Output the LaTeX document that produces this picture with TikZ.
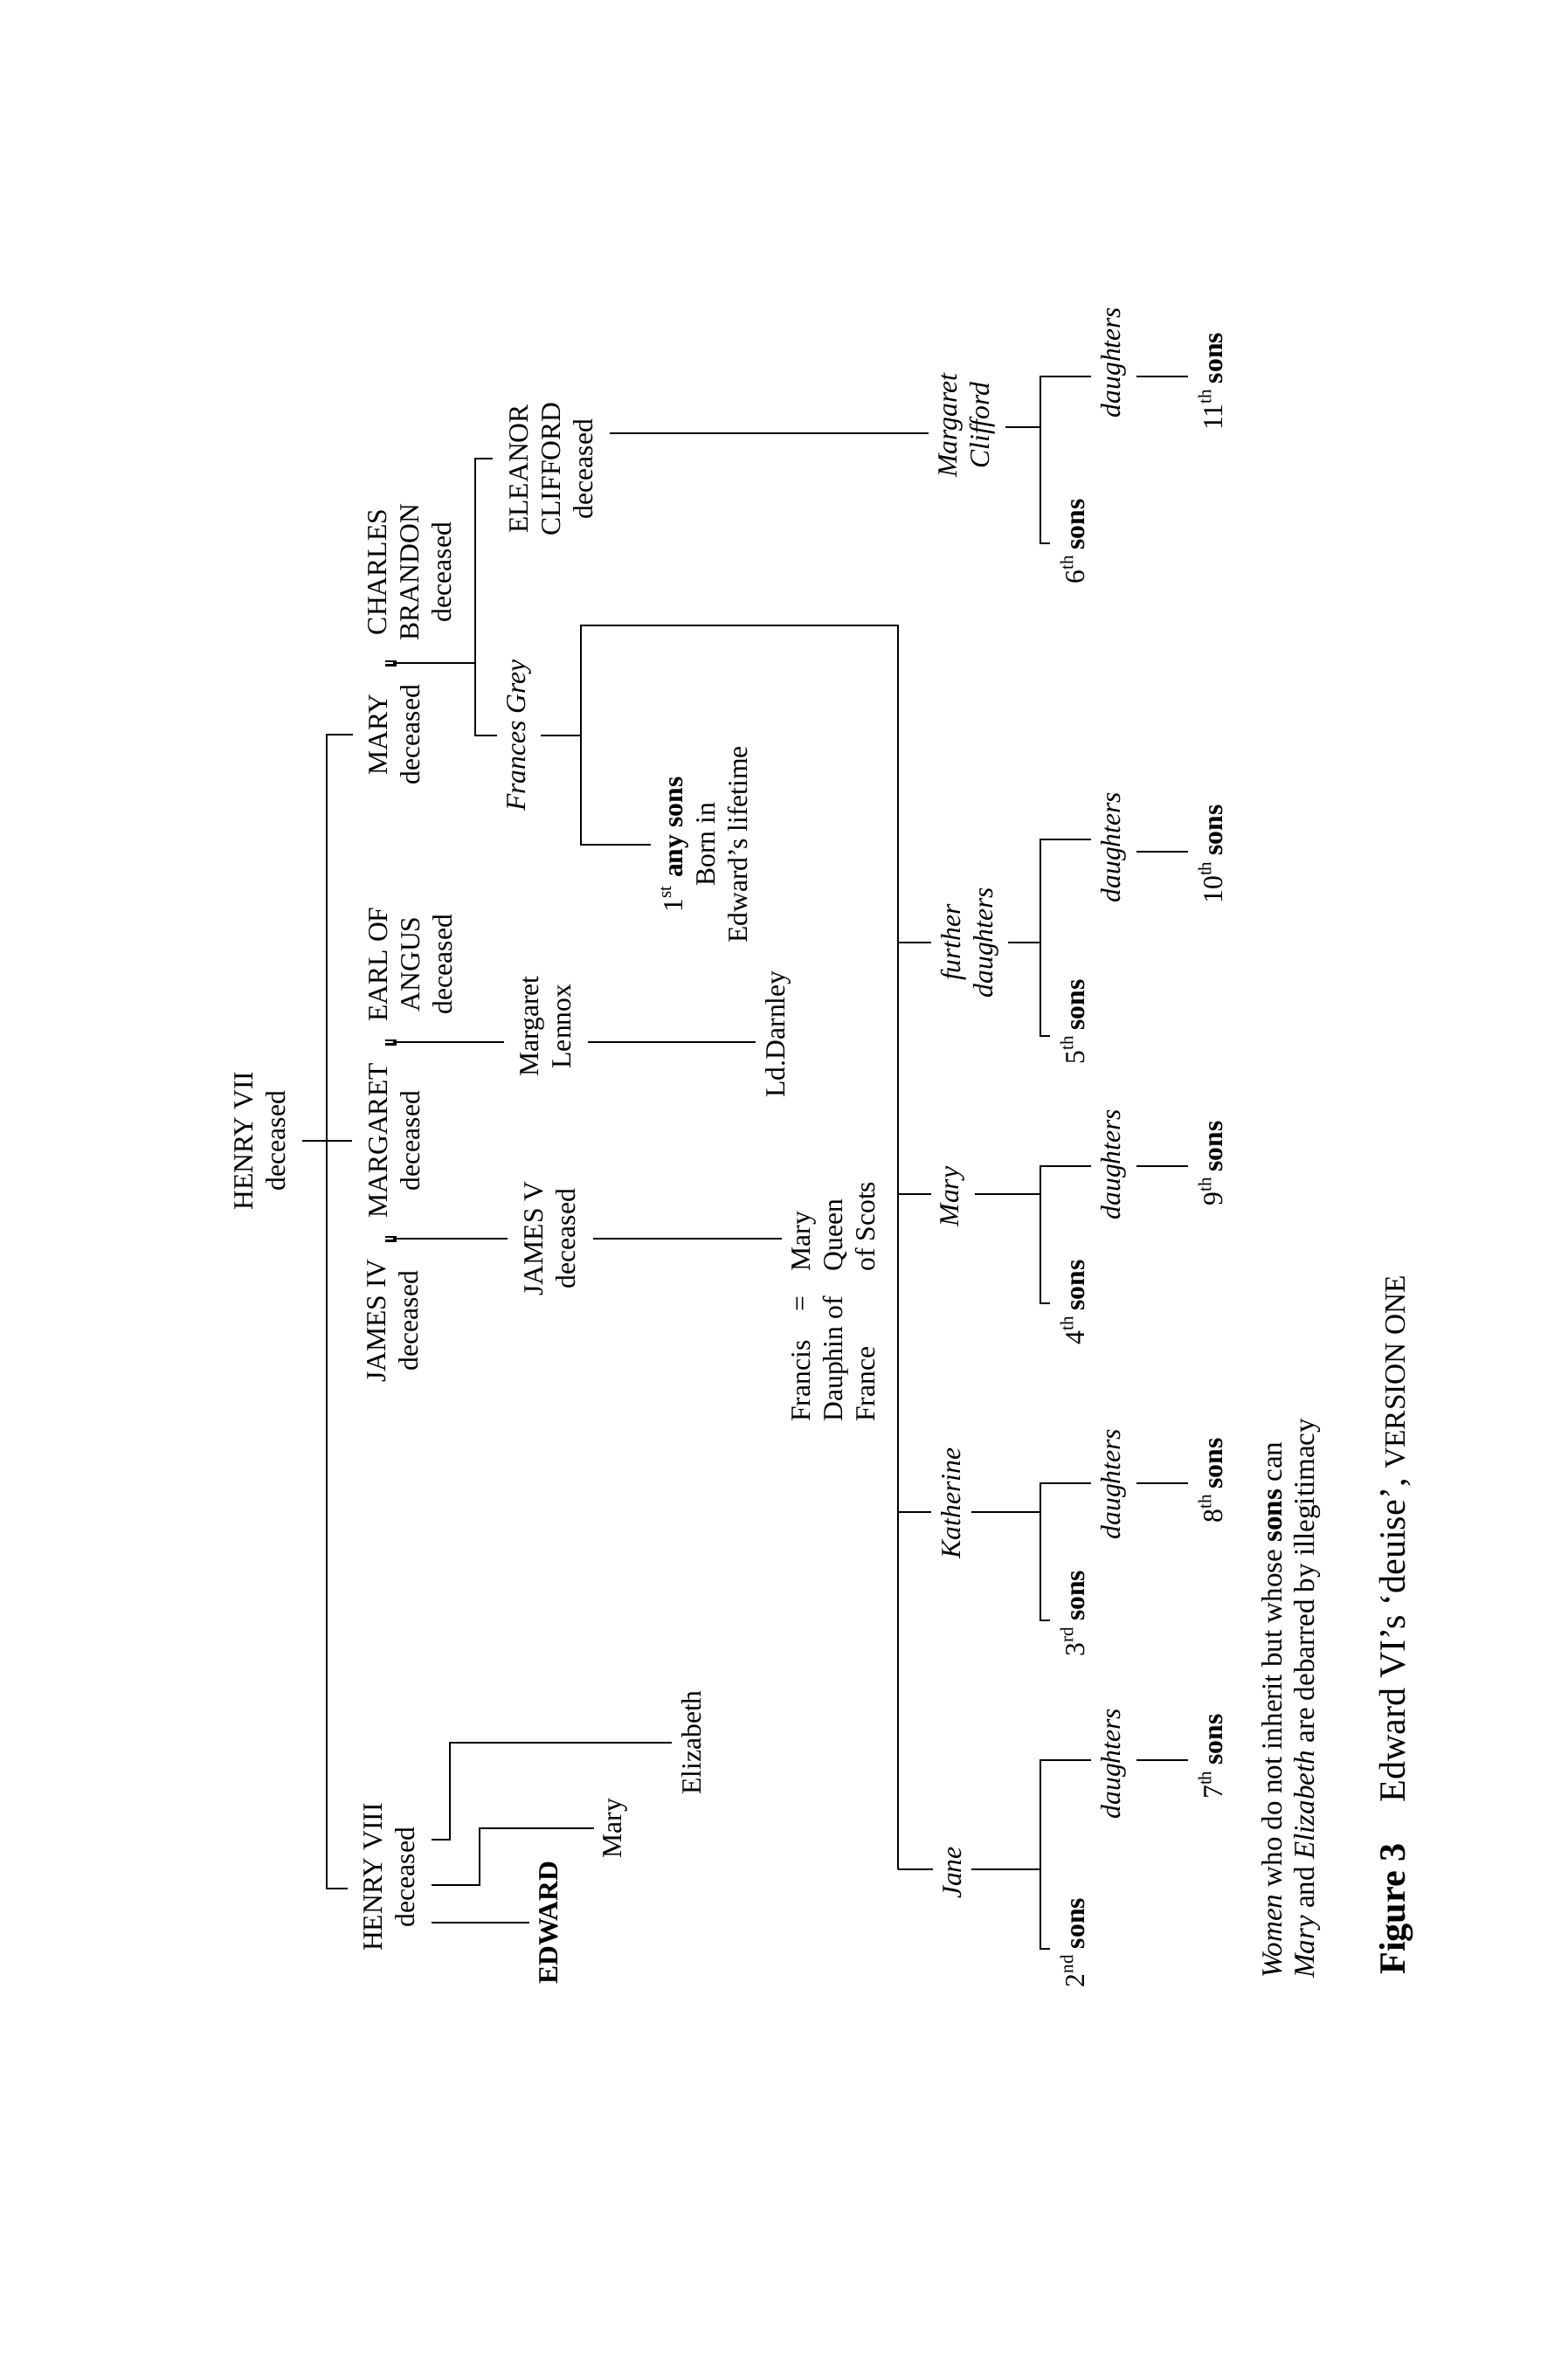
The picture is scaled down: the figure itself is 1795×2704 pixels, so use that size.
\documentclass[tikz,border=0pt]{standalone}
\usepackage{fontspec}
\setmainfont{Liberation Serif}
\newcommand{\lbl}{\fontsize{9}{10.5}\selectfont}

\begin{document}
\begin{tikzpicture}[x=0.01cm, y=-0.01cm, line width=0.8pt,
  every node/.style={font=\lbl, rotate=90, inner sep=0.1cm},
  who/.style={align=center, inner sep=0.18cm},
  heir/.style={align=center, font=\lbl\itshape},
  wed/.pic={\draw[line width=0.6pt] (-2.5,-6.5) -- (-2.5,6.5) (2,-6.5) -- (2,6.5);}]
\useasboundingbox (0,0) rectangle (1795,2704);

% Henry VII and his children
\node[who] (henry7) at (298,1306) {HENRY VII\\deceased};
\node[who] (mary) at (452,841) {MARY\\deceased};
\node[who] (margaret) at (452,1306) {MARGARET\\deceased};
\node[who] (henry8) at (446,2149) {HENRY VIII\\deceased};
\node[who] (brandon) at (469,655) {CHARLES\\BRANDON\\deceased};
\node[who] (angus) at (470,1104) {EARL OF\\ANGUS\\deceased};
\node[who] (james4) at (450,1512) {JAMES IV\\deceased};

\coordinate (s7) at (374,2162);
\draw (henry7.south) -- (margaret.north);
\draw (mary.north) -| (s7) -- (s7 -| henry8.north);

% marriages
\pic at (447.5,759) {wed};
\pic at (447.5,1193) {wed};
\pic at (447.5,1418) {wed};
\coordinate (wB) at (449.5,759);
\coordinate (wA) at (449.5,1193);
\coordinate (wJ) at (449.5,1418);

\node[who] (jamesV) at (630,1418) {JAMES V\\deceased};
\node[who] (lennox) at (625,1175) {Margaret\\Lennox};
\node[who] (eleanor) at (631,537) {ELEANOR\\CLIFFORD\\deceased};
\node[heir] (frances) at (594,842) {Frances Grey};

\coordinate (b1) at (544,525);
\coordinate (b2) at (544,842);
\draw (wJ) -- (jamesV.north);
\draw (wA) -- (wA -| lennox.north);
\draw (wB) -- (wB -| b1);
\draw (b1 -| eleanor.north) -- (b1) -- (b2) -- (frances.north);

% Henry VIII's children
\node[font=\lbl\bfseries] (edward) at (628,2201) {EDWARD};
\node (maryT) at (705,2093) {Mary};
\node (elizabeth) at (792,1995) {Elizabeth};
\coordinate (kE) at (515,2106);
\coordinate (kM) at (549,2158);
\draw (kE -| henry8.south) -- (kE) |- (elizabeth.north);
\draw (kM -| henry8.south) -- (kM) |- (maryT.north);
\draw (edward.north -| henry8.south) -- (edward.north);

% Scots line
\node (darnley) at (891,1184) {Ld.Darnley};
\draw (wA -| lennox.south) -- (wA -| darnley.north);
\node[align=left, anchor=north west] (mqs) at (895,1467) {Mary\\Queen\\of Scots};
\node[anchor=base] (eqfm) at (926,1493) {=};
\node[align=left, anchor=north west] (francis) at (895,1639) {Francis\\Dauphin of\\France};
\draw (jamesV.south) -- (jamesV.south -| mqs.north);

% Frances Grey
\node[align=center] (anysons) at (806,967) {1\textsuperscript{st} \textbf{any sons}\\Born in\\Edward’s lifetime};
\coordinate (f1) at (665,716);
\coordinate (f2) at (665,967);
\coordinate (f3) at (1028,716);
\coordinate (tF) at (1028,1079);
\coordinate (tM) at (1028,1367);
\coordinate (tK) at (1028,1731);
\coordinate (tJ) at (1028,2140);
\draw (frances.south) -- (frances.south -| f1);
\draw (anysons.north) -- (f2) -- (f1) -- (f3) -- (tJ);

\node[heir] (further) at (1110,1079) {further\\daughters};
\node[heir] (maryG) at (1091,1370) {Mary};
\node[heir] (katherine) at (1089,1721) {Katherine};
\node[heir] (jane) at (1090,2144) {Jane};
\draw (tF) -- (tF -| further.north);
\draw (tM) -- (tM -| maryG.north);
\draw (tK) -- (tK -| katherine.north);
\draw (tJ) -- (tJ -| jane.north);

% Eleanor Clifford
\node[heir] (clifford) at (1107,487) {Margaret\\Clifford};
\coordinate (e1) at (0,496);
\draw (e1 -| eleanor.south) -- (e1 -| clifford.north);

% grandchildren
\node[heir] (dJ) at (1275,2019) {daughters};
\node (sJ) at (1228,2224) {2\textsuperscript{nd}\,\textbf{sons}};
\node (uJ) at (1386,2011) {7\textsuperscript{th}\,\textbf{sons}};
\node[heir] (dK) at (1275,1699) {daughters};
\node (sK) at (1228,1847) {3\textsuperscript{rd}\,\textbf{sons}};
\node (uK) at (1386,1695) {8\textsuperscript{th}\,\textbf{sons}};
\node[heir] (dM) at (1275,1333) {daughters};
\node (sM) at (1228,1491) {4\textsuperscript{th}\,\textbf{sons}};
\node (uM) at (1386,1332) {9\textsuperscript{th}\,\textbf{sons}};
\node[heir] (dF) at (1275,970) {daughters};
\node (sF) at (1228,1170) {5\textsuperscript{th}\,\textbf{sons}};
\node (uF) at (1386,978) {10\textsuperscript{th}\,\textbf{sons}};
\node[heir] (dC) at (1275,415) {daughters};
\node (sC) at (1228,620) {6\textsuperscript{th}\,\textbf{sons}};
\node (uC) at (1386,437) {11\textsuperscript{th}\,\textbf{sons}};

\coordinate (jT) at (1191,2015);
\coordinate (jB) at (1191,2231);
\draw (tJ -| jane.south) -- (tJ -| jT);
\draw (jT -| dJ.north) -- (jT) -- (jB) -- (jB -| sJ.north);
\draw (jT -| dJ.south) -- (jT -| uJ.north);

\coordinate (kT) at (1191,1698);
\coordinate (kB) at (1191,1855);
\draw (tK -| katherine.south) -- (tK -| kT);
\draw (kT -| dK.north) -- (kT) -- (kB) -- (kB -| sK.north);
\draw (kT -| dK.south) -- (kT -| uK.north);

\coordinate (mT) at (1191,1335);
\coordinate (mB) at (1191,1492);
\draw (tM -| maryG.south) -- (tM -| mT);
\draw (mT -| dM.north) -- (mT) -- (mB) -- (mB -| sM.north);
\draw (mT -| dM.south) -- (mT -| uM.north);

\coordinate (fT) at (1191,961);
\coordinate (fB) at (1191,1186);
\coordinate (fD) at (0,975);
\draw (tF -| further.south) -- (tF -| fT);
\draw (fT -| dF.north) -- (fT) -- (fB) -- (fB -| sF.north);
\draw (fD -| dF.south) -- (fD -| uF.north);

\coordinate (cT) at (1191,431);
\coordinate (cB) at (1191,622);
\coordinate (cP) at (0,489);
\draw (cP -| clifford.south) -- (cP -| cT);
\draw (cT -| dC.north) -- (cT) -- (cB) -- (cB -| sC.north);
\draw (cT -| dC.south) -- (cT -| uC.north);

% caption
\node[align=left, anchor=north west, inner sep=0, font=\fontsize{9.4}{10.7}\selectfont] (note) at (1443,2266) {\textit{Women} who do not inherit but whose \textbf{sons} can\\\textit{Mary} and \textit{Elizabeth} are debarred by illegitimacy};
\node[anchor=north west, inner sep=0, font=\fontsize{12}{14}\selectfont] (title) at (1578,2262) {\textbf{Figure 3}\hspace{1.1em}Edward VI’s ‘deuise’, {\fontsize{9.5}{11}\selectfont VERSION ONE}};
\end{tikzpicture}
\end{document}
